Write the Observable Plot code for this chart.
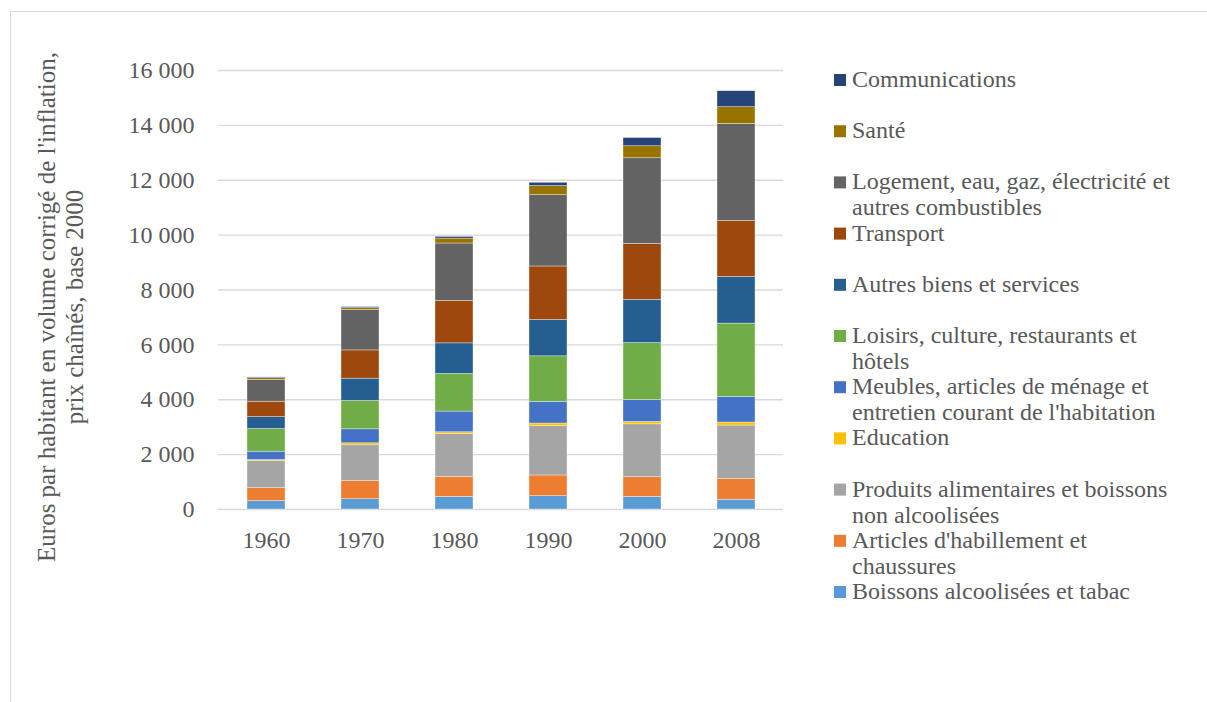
<!DOCTYPE html>
<html>
<head>
<meta charset="utf-8">
<script src="https://cdn.jsdelivr.net/npm/d3@7"></script>
<script src="https://cdn.jsdelivr.net/npm/@observablehq/plot@0.6"></script>
<style>
  html, body { margin: 0; padding: 0; background: #fff; overflow: hidden; }
  #wrap { position: relative; width: 1207px; height: 702px; }
  #frame { position: absolute; left: 10px; top: 11px; width: 1400px; height: 900px; border: 1px solid #d9d9d9; box-sizing: border-box; }
  #chart, #legend { position: absolute; left: 0; top: 0; }
</style>
</head>
<body>
<div id="wrap">
  <div id="frame"></div>
  <div id="chart"></div>
  <svg id="legend" width="1207" height="702"></svg>
</div>
<script>
// ---- Data ----
const years = ["1960", "1970", "1980", "1990", "2000", "2008"];

// categories, stacked from bottom to top
const categories = [
  "Boissons alcoolisées et tabac",
  "Articles d'habillement et chaussures",
  "Produits alimentaires et boissons non alcoolisées",
  "Education",
  "Meubles, articles de ménage et entretien courant de l'habitation",
  "Loisirs, culture, restaurants et hôtels",
  "Autres biens et services",
  "Transport",
  "Logement, eau, gaz, électricité et autres combustibles",
  "Santé",
  "Communications"
];

const colors = [
  "#5B9BD5", "#ED7D31", "#A5A5A5", "#FFC000", "#4472C4", "#70AD47",
  "#255E91", "#9E480E", "#636363", "#997300", "#264478"
];

const boissons       = [310, 375, 460, 485, 460, 355];
const habillement    = [470, 670, 730, 755, 715, 765];
const alimentaire    = [985, 1295, 1565, 1795, 1930, 1940];
const education      = [37, 73, 60, 98, 87, 110];
const meubles        = [305, 510, 755, 790, 800, 935];
const loisirs        = [825, 1035, 1370, 1660, 2075, 2670];
const autresBiens    = [437, 810, 1115, 1325, 1575, 1700];
const transport      = [560, 1030, 1545, 1950, 2040, 2040];
const logement       = [800, 1470, 2095, 2600, 3120, 3540];
const sante          = [60, 73, 180, 330, 437, 608];
const communications = [25, 36, 62, 120, 300, 583];

const seriesValues = [boissons, habillement, alimentaire, education, meubles, loisirs,
                      autresBiens, transport, logement, sante, communications];

// legend text lines (top to bottom in legend = reverse stacking order)
const legendLabels = [
  ["Communications"],
  ["Santé"],
  ["Logement, eau, gaz, électricité et", "autres combustibles"],
  ["Transport"],
  ["Autres biens et services"],
  ["Loisirs, culture, restaurants et", "hôtels"],
  ["Meubles, articles de ménage et", "entretien courant de l'habitation"],
  ["Education"],
  ["Produits alimentaires et boissons", "non alcoolisées"],
  ["Articles d'habillement et", "chaussures"],
  ["Boissons alcoolisées et tabac"]
];

const yTicks = [0, 2000, 4000, 6000, 8000, 10000, 12000, 14000, 16000];
const yTitle = ["Euros par habitant en volume corrigé de l'inflation,", "prix chaînés, base 2000"];

// ---- Table ----
const table = [];
categories.forEach((c, i) => {
  years.forEach((y, j) => table.push({year: y, cat: c, value: seriesValues[i][j]}));
});

const fmt = d => d3.format(",")(d).replace(/,/g, "\u00a0");
const FONT = "'Liberation Serif', serif";

const chart = Plot.plot({
  width: 1207,
  height: 702,
  marginLeft: 218,
  marginRight: 424,
  marginTop: 70,
  marginBottom: 193,
  style: {fontFamily: FONT, fontSize: "24px", color: "#595959", background: "transparent"},
  x: {domain: years, paddingInner: 0.6, paddingOuter: 0.3, label: null, tickSize: 0, tickPadding: 21},
  y: {domain: [0, 16000], ticks: yTicks, tickFormat: fmt, label: null, tickSize: 0, tickPadding: 24},
  color: {domain: categories, range: colors},
  marks: [
    Plot.ruleY(yTicks, {stroke: "#d9d9d9", strokeWidth: 1.3}),
    Plot.barY(table, {
      x: "year", y: "value", fill: "cat", z: "cat", order: categories,
      stroke: "#ffffff", strokeWidth: 0.6, strokeOpacity: 0.6
    }),
    Plot.text([yTitle[0]], {text: d => d, frameAnchor: "left", rotate: -90, textAnchor: "middle",
      dx: -172, dy: 17, fontSize: 25, fill: "#595959"}),
    Plot.text([yTitle[1]], {text: d => d, frameAnchor: "left", rotate: -90, textAnchor: "middle",
      dx: -144, dy: 17, fontSize: 25, fill: "#595959"})
  ]
});
document.getElementById("chart").appendChild(chart);

// ---- Legend ----
const legend = d3.select("#legend");
const reversedColors = colors.slice().reverse();
legendLabels.forEach((lines, i) => {
  const base = 87 + i * 51.2;
  const g = legend.append("g");
  g.append("rect").attr("x", 834).attr("y", base - 13).attr("width", 12).attr("height", 12)
    .attr("fill", reversedColors[i]);
  lines.forEach((t, k) => {
    g.append("text").attr("x", 852).attr("y", base + k * 26)
      .attr("font-family", FONT).attr("font-size", 24).attr("fill", "#595959").text(t);
  });
});
</script>
</body>
</html>
